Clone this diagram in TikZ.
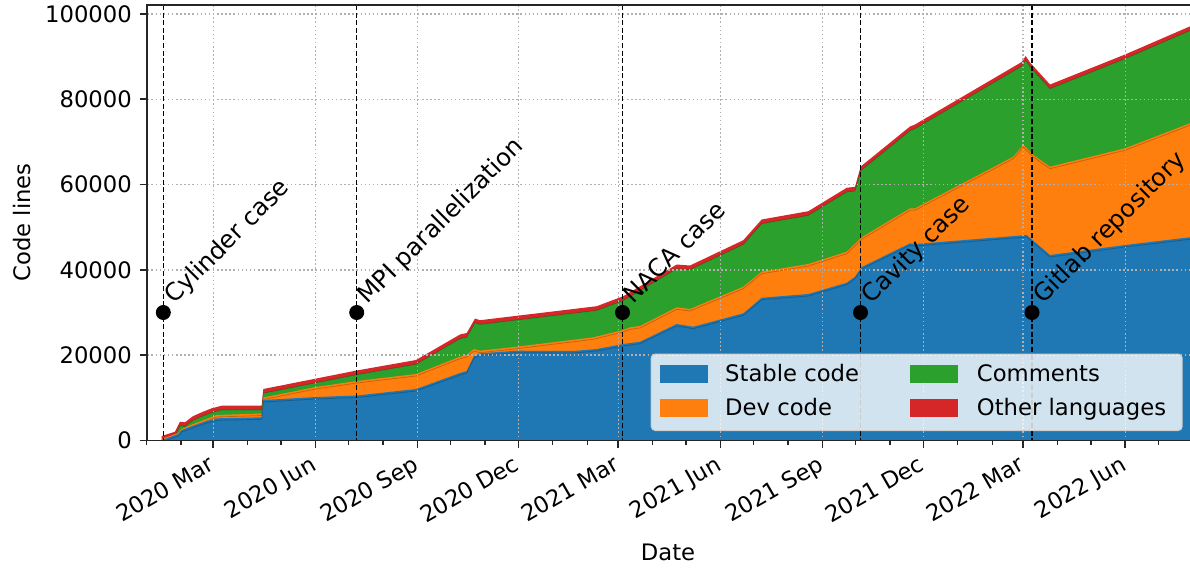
\documentclass[tikz,border=0pt]{standalone}
\usepackage{fontspec}
\setmainfont{DejaVu Sans}
\definecolor{cblue}{HTML}{1F77B4}
\definecolor{corange}{HTML}{FF7F0E}
\definecolor{cgreen}{HTML}{2CA02C}
\definecolor{cred}{HTML}{D62728}
\definecolor{gridc}{HTML}{B0B0B0}
\definecolor{legedge}{HTML}{CCCCCC}
\def\Rline{(161.7,436) -- (175,431.7) -- (180,421.7) -- (185,422.3) -- (190,418.3) -- (193.3,416) -- (201.7,412.3) -- (211.7,408.3) -- (221.7,405.7) -- (261.7,405.7) -- (263.3,389) -- (356.7,370.5) -- (416,360) -- (460,334.5) -- (466.7,333) -- (475,318.5) -- (480,320.2) -- (596.7,306.2) -- (623.3,296.2) -- (676.7,264.5) -- (690,265.5) -- (743.3,240.2) -- (761.7,219.5) -- (808.3,211.2) -- (846.7,187.8) -- (855,186.8) -- (860.7,166.5) -- (910,126.5) -- (915,124.5) -- (1021.7,62) -- (1025.7,56) -- (1030,62.5) -- (1050,84.5) -- (1125,54.5) -- (1192,25.5)}
\def\Oline{(161.7,439) -- (178.3,433) -- (181.7,429) -- (193.3,424) -- (206.7,419) -- (216.7,415) -- (261.7,413.5) -- (263.3,397.5) -- (315.7,387) -- (356.7,381) -- (416,374) -- (460,356.7) -- (466.7,355) -- (474,349) -- (480,350.7) -- (516.7,346.7) -- (593.3,337.3) -- (623.3,330) -- (630,327.3) -- (640,326) -- (676.7,307.3) -- (690,309) -- (743.3,286.7) -- (761.7,271.7) -- (808.3,264) -- (846.7,251.7) -- (861.7,237.3) -- (910,208.3) -- (915,208.3) -- (1013.3,156.7) -- (1023.3,145) -- (1033.3,155) -- (1050,166.7) -- (1125,148.3) -- (1192,122.5)}
\def\Bline{(161.7,440) -- (178.3,434) -- (181.7,430) -- (193.3,425.7) -- (206.7,421) -- (216.7,418.3) -- (261.7,417.3) -- (263.3,400) -- (315.7,397) -- (356.7,395.5) -- (416,389) -- (460,373) -- (466.7,371) -- (474,356) -- (480,353.3) -- (516.7,350.7) -- (573.3,351) -- (596.7,349) -- (623.3,344) -- (640,341.7) -- (676.7,324) -- (693.3,326.7) -- (743.3,313.3) -- (761.7,297.7) -- (808.3,294) -- (846.7,282.7) -- (855,276.7) -- (861.7,267) -- (910,243.3) -- (915,244) -- (1026.7,235) -- (1050,255) -- (1125,245) -- (1192,237)}
\begin{document}
\begin{tikzpicture}[x=1pt,y=-1pt,
  spine/.style={black!85, line width=1.7pt},
  gridline/.style={gridc, line width=1.5pt, dash pattern=on 1.5pt off 2.6pt},
  evline/.style={black, line width=1.1pt, dash pattern=on 5pt off 2.6pt},
  edgeline/.style={black, opacity=0.22, line width=0.8pt},
  evdot/.style={circle, fill=black, minimum size=15pt, inner sep=0pt},
  evlab/.style={rotate=45, anchor=base west, inner sep=0pt, font=\fontsize{24.3}{29}\selectfont},
  ticklab/.style={inner sep=0pt, font=\fontsize{22.7}{27}\selectfont},
  leglab/.style={inner sep=0pt, anchor=base west, font=\fontsize{22.7}{27}\selectfont},
  legpatch/.style={minimum width=48pt, minimum height=18.5pt, inner sep=0pt, anchor=north west}]
\useasboundingbox (0,0) rectangle (1190,568);
\begin{scope}
  \clip (147.3,5) rectangle (1190,440.5);
  % stacked areas
  \fill[cred] \Rline -- (1192,446) -- (161.7,446) -- cycle;
  \begin{scope}[yshift=-4.2pt]
    \fill[cgreen] \Rline -- (1192,446) -- (161.7,446) -- cycle;
    \draw[edgeline] \Rline;
  \end{scope}
  \fill[corange] \Oline -- (1192,446) -- (161.7,446) -- cycle;
  \begin{scope}[yshift=-2pt]
    \draw[edgeline] \Oline;
  \end{scope}
  \fill[cblue] \Bline -- (1192,446) -- (161.7,446) -- cycle;
  \begin{scope}[yshift=-2pt]
    \draw[edgeline] \Bline;
  \end{scope}
  % grid
  \foreach \d in {0,92,184,275,365,457,549,640,730,822}
    \draw[gridline] ({213.3+1.1095*\d},5) -- ({213.3+1.1095*\d},440.5);
  \foreach \v in {20,40,60,80,100}
    \draw[gridline] (147.3,{440.5-4.265*\v}) -- (1190,{440.5-4.265*\v});
\end{scope}
% event lines and markers
\foreach \n/\x/\t in {cyl/163.3/Cylinder case, mpi/356.7/MPI parallelization, naca/622.5/NACA case, cav/860.5/Cavity case, git/1032/Gitlab repository}{
  \coordinate (\n top) at (\x,5);
  \coordinate (\n bot) at (\x,440.5);
  \draw[evline] (\n top) -- (\n bot);
  \node[evdot] (\n dot) at (\x,312.5) {};
  \node[evlab] (\n lab) at ({\x+11},305) {\t};
}
% legend
\node[draw=legedge, line width=1pt, fill=white, fill opacity=0.8, rounded corners=4pt, minimum width=531pt, minimum height=76.5pt, anchor=north west, inner sep=0pt] (legbox) at (650.7,353.5) {};
\node[legpatch, fill=cblue] (pst) at (659.5,364.5) {};
\node[legpatch, fill=corange] (pdv) at (659.5,398.5) {};
\node[legpatch, fill=cgreen] (pcm) at (909.5,364.5) {};
\node[legpatch, fill=cred] (pol) at (909.5,398.5) {};
\node[leglab] (lst) at (725,381.8) {Stable code};
\node[leglab] (ldv) at (725,415.8) {Dev code};
\node[leglab] (lcm) at (976.7,381.8) {Comments};
\node[leglab] (lol) at (976.7,415.8) {Other languages};
% spines
\draw[spine] (1192,5) -- (147.3,5) -- (147.3,440.5) -- (1192,440.5);
% y ticks
\foreach \v/\lab in {0/0,20/20000,40/40000,60/60000,80/80000,100/100000}{
  \draw[black!85, line width=1.7pt] (139.5,{440.5-4.265*\v}) -- (147.3,{440.5-4.265*\v});
  \node[ticklab, anchor=east] (yt\v) at (132,{440.5-4.265*\v}) {\lab};
}
% x ticks
\foreach \d in {-60,-29,31,61,122,153,214,245,306,337,396,426,487,518,579,610,671,702,761,791,852}
  \draw[black!85, line width=1.3pt] ({213.3+1.1095*\d},440.5) -- ({213.3+1.1095*\d},445);
\foreach \d/\t [count=\i] in {0/2020 Mar,92/2020 Jun,184/2020 Sep,275/2020 Dec,365/2021 Mar,457/2021 Jun,549/2021 Sep,640/2021 Dec,730/2022 Mar,822/2022 Jun}{
  \draw[black!85, line width=1.7pt] ({213.3+1.1095*\d},440.5) -- ({213.3+1.1095*\d},448.3);
  \node[ticklab, rotate=30, anchor=north east] (xt\i) at ({213.3+1.1095*\d-6},454) {\t};
}
% axis labels
\node[ticklab] (xlab) at (668,552) {Date};
\node[ticklab, rotate=90] (ylab) at (22,222.5) {Code lines};
\end{tikzpicture}
\end{document}
